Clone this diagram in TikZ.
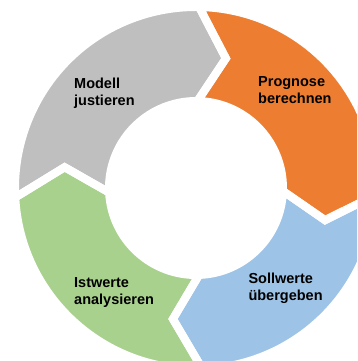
\documentclass[tikz,border=0pt]{standalone}
\usepackage{fontspec}
\setmainfont{Liberation Sans}
\definecolor{ringgray}{HTML}{BFBFBF}
\definecolor{ringorange}{HTML}{ED7D31}
\definecolor{ringblue}{HTML}{9DC3E6}
\definecolor{ringgreen}{HTML}{A9D18E}
\begin{document}
\begin{tikzpicture}[x=1pt,y=1pt,
  lbl/.style={anchor=base west,align=left,inner sep=0pt,font=\fontsize{14.5}{17}\selectfont\bfseries}]
  \useasboundingbox (0,0) rectangle (357,361);
  \clip (0,0) rectangle (357,361);
  \begin{scope}[shift={(196,173)}]
    \foreach \a/\b/\c in {183/89/ringgray,89/-2/ringorange,-2/-88/ringblue,-88/-177/ringgreen}
      \fill[\c] (\a:87) -- ({\a-12}:133) -- (\a:181) arc[start angle=\a,end angle=\b,radius=181]
        -- ({\b-12}:133) -- (\b:87) arc[start angle=\b,end angle=\a,radius=87] -- cycle;
    \foreach \a/\b in {183/89,89/-2,-2/-88,-88/-177}
      \draw[white,line width=8pt,line join=miter] (\a:87) -- ({\a-12}:133) -- (\a:181) arc[start angle=\a,end angle=\b,radius=181]
        -- ({\b-12}:133) -- (\b:87) arc[start angle=\b,end angle=\a,radius=87] -- cycle;
  \end{scope}
  \node[lbl] (modell) at (74,255.7) {Modell\\justieren};
  \node[lbl] (prognose) at (258,257.5) {Prognose\\berechnen};
  \node[lbl] (istwerte) at (74,56.5) {Istwerte\\analysieren};
  \node[lbl] (sollwerte) at (248.3,60.5) {Sollwerte\\übergeben};
\end{tikzpicture}
\end{document}
